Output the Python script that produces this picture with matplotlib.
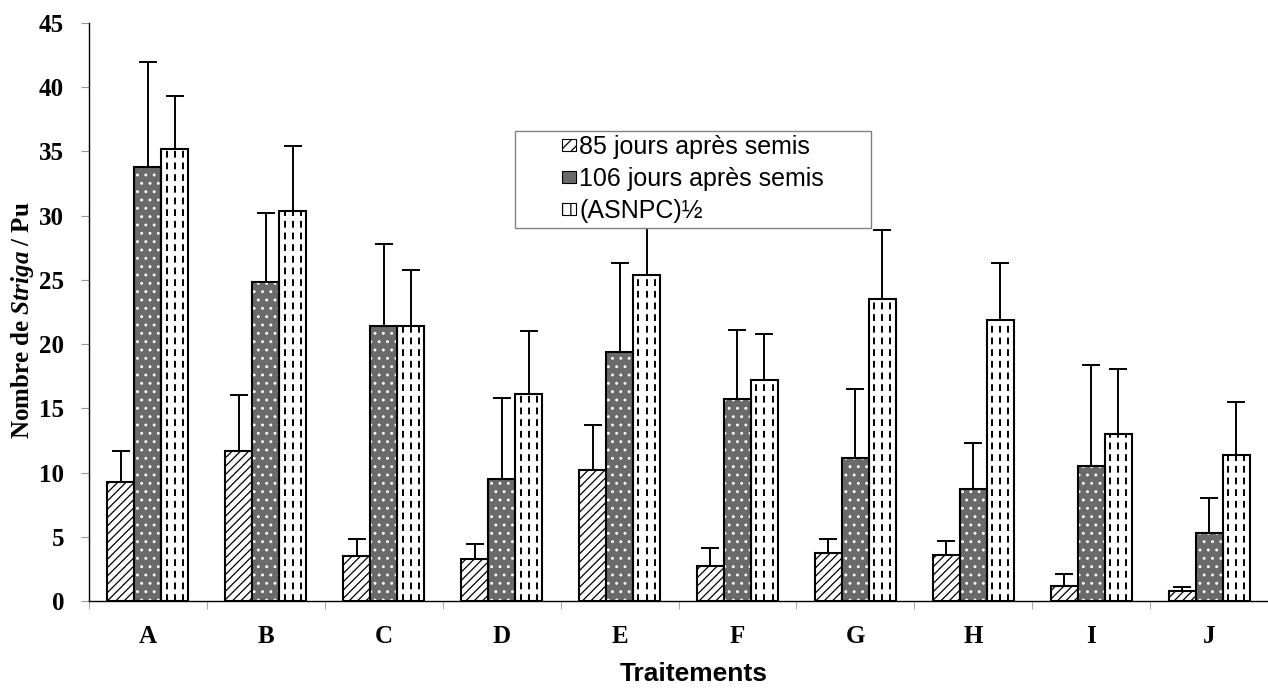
import numpy as np
import matplotlib
matplotlib.use("Agg")
import matplotlib.pyplot as plt
from matplotlib.patches import Patch, Rectangle

plt.rcParams['font.family'] = ['Liberation Serif', 'DejaVu Serif']
plt.rcParams['mathtext.fontset'] = 'custom'
plt.rcParams['mathtext.it'] = 'Liberation Serif:italic:bold'
plt.rcParams['mathtext.rm'] = 'Liberation Serif:bold'
plt.rcParams['hatch.linewidth'] = 0.9

# --- data ---
traitements = ['A', 'B', 'C', 'D', 'E', 'F', 'G', 'H', 'I', 'J']
j85 = [9.3, 11.7, 3.5, 3.3, 10.2, 2.7, 3.7, 3.6, 1.2, 0.8]
err85 = [2.4, 4.3, 1.3, 1.1, 3.5, 1.4, 1.1, 1.1, 0.9, 0.3]
j106 = [33.8, 24.8, 21.4, 9.5, 19.4, 15.7, 11.1, 8.7, 10.5, 5.3]
err106 = [8.2, 5.4, 6.4, 6.3, 6.9, 5.4, 5.4, 3.6, 7.9, 2.7]
asnpc = [35.2, 30.4, 21.4, 16.1, 25.4, 17.2, 23.5, 21.9, 13.0, 11.4]
err_asnpc = [4.1, 5.0, 4.4, 4.9, 5.6, 3.6, 5.4, 4.4, 5.1, 4.1]

labels = ['85 jours après semis', '106 jours après semis', '(ASNPC)½']

x = np.arange(len(traitements))
w = 0.229

fig = plt.figure(figsize=(12.68, 6.92), dpi=100)
ax = fig.add_axes([0.0702, 0.1315, 0.9298, 0.8353])

# series 1 : white with diagonal strokes
ax.bar(x - w, j85, w, color='white', edgecolor='black', hatch='////', linewidth=1.5, zorder=3)

# series 2 : grey stipple with white dots
ax.bar(x, j106, w, color='#6a6a6a', edgecolor='white', hatch='..', linewidth=0, zorder=3)
ax.bar(x, j106, w, color='none', edgecolor='black', linewidth=1.5, zorder=4)

# series 3 : white with dashed vertical lines
ax.bar(x + w, asnpc, w, color='white', edgecolor='black', linewidth=1.5, zorder=3)
for f in (0.2, 0.5, 0.8):
    ax.vlines(x + w - w / 2 + w * f, 0, asnpc, colors='black', linewidth=1.4,
              linestyles=(0, (3.5, 2.5)), zorder=3.5)

# upper error bars only
for off, vals, errs in [(-w, j85, err85), (0, j106, err106), (w, asnpc, err_asnpc)]:
    ax.errorbar(x + off, vals, yerr=[np.zeros(len(vals)), errs], fmt='none',
                ecolor='black', elinewidth=1.4, capsize=6.5, capthick=1.4, zorder=2)

ax.set_xlim(-0.5, len(traitements) - 0.5)
ax.set_ylim(0, 45)
ax.set_yticks(np.arange(0, 46, 5))
ax.set_xticks(x)
ax.set_xticklabels(traitements, fontsize=18, fontweight='bold')
ax.set_xticks(np.arange(-0.5, len(traitements)), minor=True)
ax.tick_params(axis='x', which='major', length=0, pad=17)
ax.tick_params(axis='x', which='minor', length=6, color='#999999', direction='out')
ax.tick_params(axis='y', length=6, color='#999999', direction='out', pad=12)
for lab in ax.get_yticklabels():
    lab.set_fontsize(18)
    lab.set_fontweight('bold')

for s in ['top', 'right']:
    ax.spines[s].set_visible(False)
ax.spines['left'].set_linewidth(1.0)
ax.spines['bottom'].set_linewidth(1.0)

ax.set_ylabel(r'Nombre de $\mathit{Striga}$ / Pu', fontsize=18, fontweight='bold')
ax.yaxis.set_label_coords(-0.045, 0.486)
ax.set_xlabel('Traitements', fontsize=19, fontweight='bold', family='Liberation Sans')
ax.xaxis.set_label_coords(0.513, -0.105)

# legend box (covers the error bar of E)
ax.add_patch(Rectangle((0.3613, 0.6453), 0.302, 0.1678, transform=ax.transAxes,
                       facecolor='white', edgecolor='#808080', linewidth=1.0, zorder=10))
handles = [Patch(facecolor='white', edgecolor='black', hatch='///', linewidth=0.8),
           Patch(facecolor='#6a6a6a', edgecolor='black', linewidth=0.8),
           Patch(facecolor='white', edgecolor='black', hatch='||', linewidth=0.8)]
leg = ax.legend(handles, labels, loc='upper left', bbox_to_anchor=(0.401, 0.806),
                frameon=False, borderpad=0, borderaxespad=0,
                prop={'family': 'Liberation Sans', 'size': 18},
                handlelength=0.55, handleheight=0.4, handletextpad=0.15, labelspacing=0.32)
leg.set_zorder(11)

fig.savefig('out.png', dpi=100)
